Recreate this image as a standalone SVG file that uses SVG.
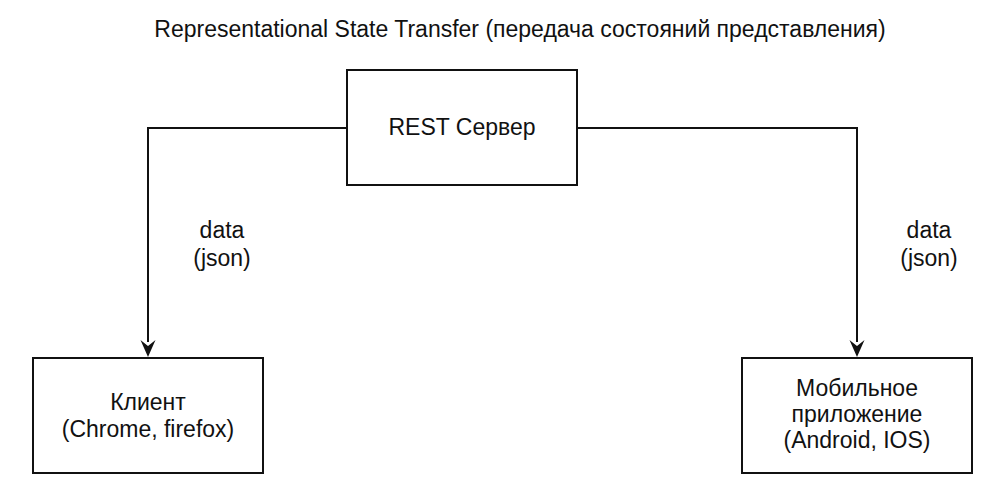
<svg xmlns="http://www.w3.org/2000/svg" width="986" height="485" viewBox="0 0 986 485">
<style>
text{font-family:"Liberation Sans",Arial,Helvetica,sans-serif;font-size:23px;fill:#111;text-anchor:middle}
.box{fill:#fff;stroke:#111;stroke-width:2}
.edge{fill:none;stroke:#111;stroke-width:2}
.head{fill:#111}
</style>
<rect width="986" height="485" fill="#fff"/>
<text id="title" x="520" y="37">Representational State Transfer (передача состояний представления)</text>
<g id="connectors">
<path class="edge" d="M347,128 H148 V342"/>
<path class="head" d="M140.5,340 L148,357 L155.5,340 L148,346 Z"/>
<path class="edge" d="M577,128 H857 V342"/>
<path class="head" d="M849.5,340 L857,357 L864.5,340 L857,346 Z"/>
<g id="label-left"><text x="222" y="238">data</text><text x="222" y="266">(json)</text></g>
<g id="label-right"><text x="929" y="238">data</text><text x="929" y="266">(json)</text></g>
</g>
<g id="server"><rect class="box" x="347" y="70" width="230" height="115"/><text x="462" y="135">REST Сервер</text></g>
<g id="client"><rect class="box" x="33" y="358" width="230" height="115"/><text x="148" y="410">Клиент</text><text x="148" y="437">(Chrome, firefox)</text></g>
<g id="mobile"><rect class="box" x="742" y="358" width="230" height="115"/><text x="857" y="396">Мобильное</text><text x="857" y="422">приложение</text><text x="857" y="448">(Android, IOS)</text></g>
</svg>
